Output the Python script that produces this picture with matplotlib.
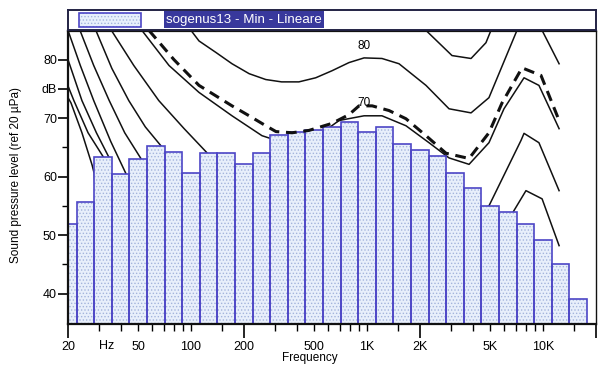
import numpy as np
import matplotlib
matplotlib.use('Agg')
import matplotlib.pyplot as plt
from matplotlib.patches import Rectangle

plt.rcParams['font.family'] = ['Liberation Sans', 'DejaVu Sans']
plt.rcParams['hatch.linewidth'] = 0.6

# 1/3 octave band levels (dB)
bands = [20, 25, 31.5, 40, 50, 63, 80, 100, 125, 160, 200, 250, 315, 400, 500,
         630, 800, 1000, 1250, 1600, 2000, 2500, 3150, 4000, 5000, 6300, 8000,
         10000, 12500, 16000]
levels = [51.9, 55.6, 63.3, 60.5, 63.0, 65.2, 64.2, 60.6, 64.0, 64.0, 62.2, 64.0,
          67.2, 67.6, 68.0, 68.5, 69.3, 67.6, 68.5, 65.5, 64.6, 63.5, 60.6, 58.1,
          54.9, 54.0, 51.9, 49.2, 45.0, 39.1]

# equal loudness contours (freq Hz, dB)
c0_f = [20, 20.8, 24.0, 27.4, 28.2, 30]
c0_db = [73.5, 72.6, 67.5, 62.0, 60.5, 45]
c10_f = [20, 21.6, 26.0, 32.0, 33]
c10_db = [75.5, 73.0, 67.5, 63.2, 45]
c20_f = [20, 24.0, 29.0, 34.3, 35]
c20_db = [80.0, 73.0, 67.5, 63.2, 45]
c30_f = [20, 23.5, 28.0, 35.0, 42.7, 44]
c30_db = [85, 79.0, 73.0, 66.0, 60.5, 45]
c40_f = [23.4, 28.0, 34.3, 42.0, 51.9, 54]
c40_db = [85, 79.0, 73.0, 67.5, 63.1, 45]
c50_f = [28.8, 35.5, 44.3, 55.0, 68.2, 70, 1000, 4000, 6000, 6840, 8000, 9880, 12340]
c50_db = [85, 78.5, 73.0, 68.5, 65.1, 55, 50, 46, 51, 54.2, 57.6, 56.2, 48.2]
c60_f = [35.3, 47.3, 65.6, 91.4, 123, 130, 1000, 2500, 4000, 4930, 7500, 7800, 9480, 12340]
c60_db = [85, 79.0, 73.0, 68.2, 64.1, 58, 57, 56, 53.5, 55.0, 66.2, 67.4, 65.8, 57.6]
c70_f = [52.6, 75, 111, 171, 253, 360, 500, 694, 962, 1216, 1664, 2250, 2924, 3800,
         4930, 6000, 7800, 9480, 12340]
c70_db = [85, 79.0, 74.4, 70.4, 67.0, 65.5, 66.5, 69.6, 70.4, 70.4, 68.7, 65.8, 63.2,
          62.1, 65.8, 71.6, 76.9, 75.6, 68.2]
c80_f = [100, 111, 139, 171, 214, 266, 327, 410, 511, 632, 790, 962, 1216, 1520,
         2163, 2924, 3900, 4930, 7110, 8300, 9880, 12340]
c80_db = [85, 83.2, 81.2, 79.3, 77.6, 76.6, 76.2, 76.2, 76.9, 78.1, 79.5, 80.3, 80.2,
          79.3, 75.6, 71.6, 70.9, 73.5, 85, 89, 85, 79.3]
c90_f = [1500, 2163, 3040, 3900, 4740, 5060, 8000, 12340]
c90_db = [90, 85, 80.7, 80.2, 82.9, 85, 97, 90]
min_f = [57.7, 80, 111, 171, 214, 266, 304, 375, 468, 632, 790, 900, 1070, 1333,
         1664, 2163, 2810, 3800, 4930, 5850, 7600, 9740, 12340]
min_db = [85, 80.0, 75.6, 72.1, 70.4, 68.7, 67.7, 67.5, 67.9, 69.1, 70.6, 72.1, 72.1,
          71.3, 69.9, 67.0, 64.0, 63.1, 67.5, 72.6, 78.6, 77.3, 69.6]

W, H = 598, 372
fig = plt.figure(figsize=(W / 100, H / 100), dpi=100)
ax = fig.add_axes([68 / W, 1 - 324 / H, 528 / W, 293 / H])
leg = fig.add_axes([68 / W, 1 - 30 / H, 528 / W, 20 / H])

fc = 1000 * 10 ** (np.round(10 * np.log10(np.array(bands) / 1000)) / 10)
lo = fc * 10 ** -0.05
hi = fc * 10 ** 0.05
lev = np.array(levels)
ax.bar(lo, lev - 30, width=hi - lo, bottom=30, align='edge', color='#e8effb',
       edgecolor='#a4b4dc', hatch='.....', linewidth=0, zorder=2)
ax.bar(lo, lev - 30, width=hi - lo, bottom=30, align='edge', fill=False,
       edgecolor='#4d46c6', linewidth=1.2, zorder=2.1)

for f, d in [(c0_f, c0_db), (c10_f, c10_db), (c20_f, c20_db), (c30_f, c30_db),
             (c40_f, c40_db), (c50_f, c50_db), (c60_f, c60_db), (c70_f, c70_db),
             (c80_f, c80_db), (c90_f, c90_db)]:
    ax.plot(f, d, color='#111111', lw=1.1, zorder=1)
ax.plot(min_f, min_db, color='#111111', lw=2.2, dashes=(3.5, 2.2), zorder=3)

ax.text(962, 82.3, '80', fontsize=8.5, ha='center', va='center', zorder=4)
ax.text(962, 72.6, '70', fontsize=8.5, ha='center', va='center', zorder=4)

ax.set_xscale('log')
ax.set_xlim(20, 20000)
ax.set_ylim(34.8, 84.9)

ax.set_xticks([20, 200, 2000, 20000], ['20', '200', '2K', ''])
minor = [30, 40, 50, 60, 70, 80, 90, 100, 150, 300, 400, 500, 600, 700, 800, 900,
         1000, 1500, 3000, 4000, 5000, 6000, 7000, 8000, 9000, 10000, 15000]
minor_lab = ['' if m not in (50, 100, 500, 1000, 5000, 10000) else
             (str(m) if m < 1000 else f'{m // 1000}K') for m in minor]
ax.set_xticks(minor, minor_lab, minor=True)
ax.tick_params(axis='x', which='major', length=10, width=1.2, pad=2, labelsize=9)
ax.tick_params(axis='x', which='minor', length=5, width=1.0, pad=7, labelsize=9)
ax.set_yticks([40, 50, 60, 70, 75, 80], ['40', '50', '60', '70', 'dB', '80'])
ax.set_yticks([45, 55, 65], minor=True)
ax.tick_params(axis='y', which='major', length=7, width=1.2, pad=1, labelsize=9)
ax.tick_params(axis='y', which='minor', length=4, width=1.0)
for s in ax.spines.values():
    s.set_linewidth(1.6)
    s.set_color('#111111')
ax.spines['right'].set_linewidth(1.0)

ax.text(33, -0.075, 'Hz', transform=ax.get_xaxis_transform(), fontsize=9,
        ha='center', va='center')
fig.text(310 / W, 1 - 358 / H, 'Frequency', fontsize=8.5, ha='center', va='center')
fig.text(16 / W, 1 - 175 / H, 'Sound pressure level (ref 20 µPa)', fontsize=8.5,
         rotation=90, ha='center', va='center')

# legend strip, data coords = pixel coords
leg.set_xlim(68, 596)
leg.set_ylim(30, 10)
leg.set_xticks([])
leg.set_yticks([])
for s in leg.spines.values():
    s.set_linewidth(1.4)
    s.set_color('#222244')
leg.add_patch(Rectangle((79, 12.5), 62, 14.5, facecolor='#e8effb', edgecolor='#a4b4dc',
                        hatch='.....', linewidth=0))
leg.add_patch(Rectangle((79, 12.5), 62, 14.5, fill=False, edgecolor='#4d46c6', linewidth=1.2))
leg.text(166, 19.5, 'sogenus13 - Min - Lineare', fontsize=9.6, color='white',
         va='center', ha='left',
         bbox=dict(facecolor='#38389c', edgecolor='none', pad=1.5))

fig.savefig('out.png', dpi=100)
